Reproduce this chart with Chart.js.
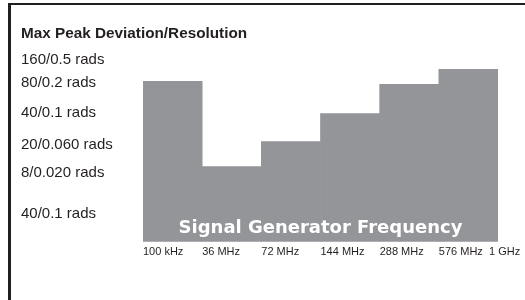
<!DOCTYPE html>
<html>
<head>
<meta charset="utf-8">
<script src="https://cdn.jsdelivr.net/npm/chart.js@4.4.1/dist/chart.umd.min.js"></script>
<style>
html, body { margin: 0; padding: 0; background: #fff; }
#wrap { position: relative; width: 525px; height: 300px; overflow: hidden; }
#frame { position: absolute; left: 8px; top: 3px; width: 600px; height: 400px;
  border-top: 2px solid #231f20; border-left: 3px solid #231f20; pointer-events: none; }
</style>
</head>
<body>
<div id="wrap">
  <canvas id="myChart" width="525" height="300"></canvas>
  <div id="frame"></div>
</div>
<script>
// frequency bands and the deviation level of each (height in chart units)
const bands = ['100 kHz-36 MHz', '36-72 MHz', '72-144 MHz', '144-288 MHz', '288-576 MHz', '576 MHz-1 GHz'];
const levels = [160, 75, 100, 128, 157, 172];

// band edges shown under the bars
const freqLabels = ['100 kHz', '36 MHz', '72 MHz', '144 MHz', '288 MHz', '576 MHz', '1 GHz'];

// left hand labels and where they sit on the same scale
const yLabels = ['160/0.5 rads', '80/0.2 rads', '40/0.1 rads', '20/0.060 rads', '8/0.020 rads', '40/0.1 rads'];
const yLevels = [182, 159, 129, 97, 69, 28];

const axisText = 'Signal Generator Frequency';
const ink = '#231f20';
const gray = '#939598';
const tickFont = { family: '"Liberation Sans", Arial, sans-serif', size: 11 };
const lastEdge = freqLabels.length - 1;

const bandTitle = {
  id: 'bandTitle',
  afterDatasetsDraw(chart) {
    const { ctx, chartArea } = chart;
    ctx.save();
    ctx.fillStyle = '#fff';
    ctx.font = 'bold 18px "DejaVu Sans"';
    ctx.textAlign = 'center';
    ctx.textBaseline = 'middle';
    ctx.fillText(axisText, (chartArea.left + chartArea.right) / 2, chartArea.bottom - 13);
    ctx.restore();
  }
};

const ctx = document.getElementById('myChart');
const myChart = new Chart(ctx, {
  type: 'bar',
  data: {
    labels: bands,
    datasets: [{
      data: levels,
      backgroundColor: gray,
      borderWidth: 0,
      barPercentage: 1,
      categoryPercentage: 1
    }]
  },
  options: {
    responsive: false,
    animation: false,
    layout: { padding: { left: 21, right: 27, top: 0, bottom: 37 } },
    plugins: {
      legend: { display: false },
      tooltip: { enabled: false },
      title: {
        display: true,
        text: 'Max Peak Deviation/Resolution',
        align: 'start',
        color: ink,
        font: { family: '"Liberation Sans", Arial, sans-serif', size: 15.3, weight: 'bold' },
        padding: { top: 25, bottom: 8 }
      }
    },
    scales: {
      x: { display: false },
      // band edges, labels start at the edge
      x2: {
        type: 'linear',
        position: 'bottom',
        offset: false,
        min: 0,
        max: lastEdge,
        grid: { display: false, drawTicks: false, offset: false },
        border: { display: false },
        afterBuildTicks: (s) => { s.ticks = freqLabels.slice(0, lastEdge).map((l, i) => ({ value: i })); },
        afterFit: (s) => { s.paddingRight = 0; },
        ticks: { align: 'start', padding: 4, color: ink, font: tickFont, callback: (v) => freqLabels[v] }
      },
      // last edge label sits on the base line too, pulled in so it stays on the page
      x3: {
        type: 'linear',
        position: { y: 0 },
        offset: false,
        min: 0,
        max: lastEdge,
        grid: { display: false, drawTicks: false, offset: false },
        border: { display: false },
        afterBuildTicks: (s) => { s.ticks = [{ value: lastEdge }]; },
        afterFit: (s) => { s.paddingRight = 0; },
        ticks: { align: 'start', labelOffset: -9, padding: 4, color: ink, font: tickFont, callback: (v) => freqLabels[v] }
      },
      y: {
        min: 0,
        max: 190,
        grid: { display: false, drawTicks: false },
        border: { display: false },
        afterBuildTicks: (s) => { s.ticks = yLevels.map(v => ({ value: v })); },
        afterFit: (s) => { s.width = 122; },
        ticks: {
          crossAlign: 'far',
          padding: 0,
          color: ink,
          font: { family: '"Liberation Sans", Arial, sans-serif', size: 15 },
          callback: (v) => yLabels[yLevels.indexOf(v)]
        }
      }
    }
  },
  plugins: [bandTitle]
});
</script>
</body>
</html>
